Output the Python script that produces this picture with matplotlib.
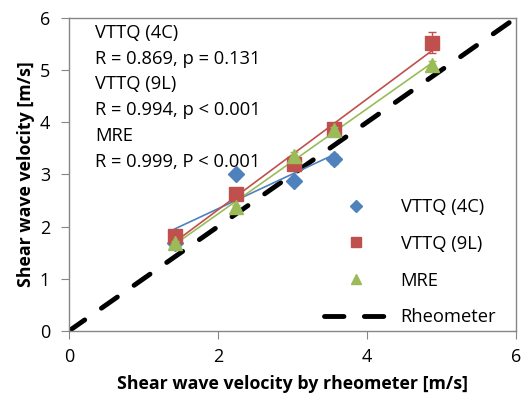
import numpy as np
import matplotlib
matplotlib.use("Agg")
import matplotlib.pyplot as plt

plt.rcParams['font.family'] = ['Open Sans', 'DejaVu Sans']

vttq4c_x = [1.42, 2.24, 3.02, 3.56]
vttq4c_y = [1.68, 3.01, 2.87, 3.30]
vttq4c_err = [0.05, 0.05, 0.05, 0.10]

vttq9l_x = [1.42, 2.24, 3.02, 3.56, 4.87]
vttq9l_y = [1.82, 2.62, 3.20, 3.87, 5.52]
vttq9l_err = [0.06, 0.06, 0.06, 0.06, 0.20]

mre_x = [1.42, 2.24, 3.02, 3.56, 4.87]
mre_y = [1.68, 2.38, 3.35, 3.85, 5.10]
mre_err = [0.04, 0.04, 0.08, 0.05, 0.08]

line_x = [0, 6]
line_y = [0, 6]

stats_text = ("VTTQ (4C)\nR = 0.869, p = 0.131\nVTTQ (9L)\n"
              "R = 0.994, p < 0.001\nMRE\nR = 0.999, P < 0.001")

c_blue = '#4f81bd'
c_red = '#c0504d'
c_green = '#9bbb59'

fig = plt.figure(figsize=(5.25, 3.96), dpi=100)
ax = fig.add_axes([0.131, 0.164, 0.852, 0.791])

def trend(xs, ys, color):
    k, b = np.polyfit(xs, ys, 1)
    xx = np.array([min(xs), max(xs)])
    ax.plot(xx, k * xx + b, color=color, lw=1.2, zorder=2)

trend(vttq4c_x, vttq4c_y, c_blue)
trend(vttq9l_x, vttq9l_y, c_red)
trend(mre_x, mre_y, c_green)

e1 = ax.errorbar(vttq4c_x, vttq4c_y, yerr=vttq4c_err, fmt='D', color=c_blue,
                 ms=8.5, ecolor=c_blue, elinewidth=1, capsize=3, zorder=3)
e2 = ax.errorbar(vttq9l_x, vttq9l_y, yerr=vttq9l_err, fmt='s', color=c_red,
                 ms=10.5, ecolor=c_red, elinewidth=1, capsize=3, zorder=3)
e3 = ax.errorbar(mre_x, mre_y, yerr=mre_err, fmt='^', color=c_green,
                 ms=10.5, ecolor=c_green, elinewidth=1, capsize=3, zorder=4)
rl, = ax.plot(line_x, line_y, color='black', lw=3.5, dashes=(4, 4.2),
              dash_capstyle='round', zorder=1)

ax.set_xlim(0, 6)
ax.set_ylim(0, 6)
ax.set_xticks([0, 2, 4, 6])
ax.set_yticks([0, 1, 2, 3, 4, 5, 6])
for s in ax.spines.values():
    s.set_color('#868686')
    s.set_linewidth(1)
ax.tick_params(direction='out', length=5.5, color='#868686', labelsize=13)
ax.tick_params(axis='x', pad=7)
ax.tick_params(axis='y', pad=8)

ax.set_xlabel('Shear wave velocity by rheometer [m/s]', fontsize=12.8, fontweight='bold', labelpad=6)
ax.set_ylabel('Shear wave velocity [m/s]', fontsize=12.8, fontweight='bold', labelpad=3)

ax.text(0.35, 5.88, stats_text, fontsize=13.2, va='top', ha='left', linespacing=1.55)

leg = ax.legend([e1[0], e2[0], e3[0], rl], ['VTTQ (4C)', 'VTTQ (9L)', 'MRE', 'Rheometer'],
                loc='lower right', frameon=False, fontsize=13.2, markerscale=0.75,
                handlelength=3.5, handletextpad=0.7, labelspacing=1.02,
                borderaxespad=0.0, bbox_to_anchor=(0.972, -0.008))

fig.savefig('out.png', dpi=100)
